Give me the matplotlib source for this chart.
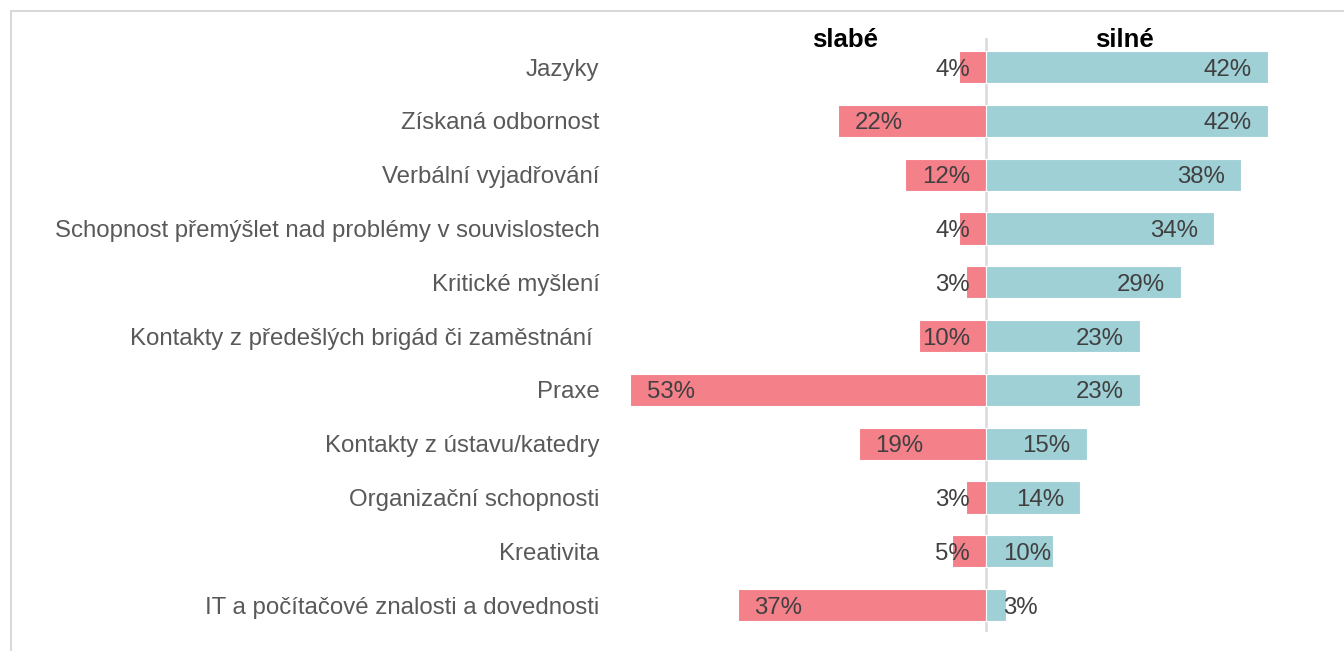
import matplotlib.pyplot as plt
from matplotlib.patches import Rectangle

plt.rcParams['font.family'] = ['Liberation Sans', 'DejaVu Sans']

# data (top to bottom)
categories = ['Jazyky', 'Získaná odbornost', 'Verbální vyjadřování',
              'Schopnost přemýšlet nad problémy v souvislostech', 'Kritické myšlení',
              'Kontakty z předešlých brigád či zaměstnání ', 'Praxe',
              'Kontakty z ústavu/katedry', 'Organizační schopnosti', 'Kreativita',
              'IT a počítačové znalosti a dovednosti']
slabe = [4, 22, 12, 4, 3, 10, 53, 19, 3, 5, 37]
silne = [42, 42, 38, 34, 29, 23, 23, 15, 14, 10, 3]

red = '#F4808A'
blue = '#9FD0D6'
W, H = 1344, 651
fs = 17.3

fig = plt.figure(figsize=(W / 100, H / 100), dpi=100)
ax = fig.add_axes([605 / W, (H - 632) / H, (1340 - 605) / W, (632 - 38) / H])

y = list(range(len(categories)))
ax.barh(y, [-v for v in slabe], height=0.6, color=red, edgecolor='white', linewidth=0.8)
ax.barh(y, silne, height=0.6, color=blue, edgecolor='white', linewidth=0.8)
ax.axvline(0, color='#D9D9D9', linewidth=1.8, zorder=0)

ax.set_xlim(-(986 - 605) / 6.71, (1340 - 986) / 6.71)
ax.set_ylim(10.5, -0.54)

# value labels
for i, v in enumerate(slabe):
    if v > 10:
        ax.text(-v + 2.5, i, f'{v}%', ha='left', va='center_baseline', fontsize=fs, color='#404040')
    else:
        ax.text(-2.4, i, f'{v}%', ha='right', va='center_baseline', fontsize=fs, color='#404040')
for i, v in enumerate(silne):
    if v >= 14:
        ax.text(v - 2.4, i, f'{v}%', ha='right', va='center_baseline', fontsize=fs, color='#404040')
    else:
        ax.text(2.5, i, f'{v}%', ha='left', va='center_baseline', fontsize=fs, color='#404040')

# headers
ax.text(-21, -0.37, 'slabé', ha='center', va='baseline', fontsize=18.6, fontweight='bold', color='black')
ax.text(20.7, -0.37, 'silné', ha='center', va='baseline', fontsize=18.6, fontweight='bold', color='black')

ax.set_yticks(y)
ax.set_yticklabels(categories, fontsize=fs, color='#595959', va='center_baseline')
ax.tick_params(axis='y', length=0, pad=4)
ax.set_xticks([])
for s in ax.spines.values():
    s.set_visible(False)

# outer border (chart area frame)
fig.patches.append(Rectangle((10.5 / W, -0.1), 1.2, (H - 11) / H + 0.1, transform=fig.transFigure,
                             fill=False, edgecolor='#D9D9D9', linewidth=1.5))

fig.savefig('out.png', dpi=100)
